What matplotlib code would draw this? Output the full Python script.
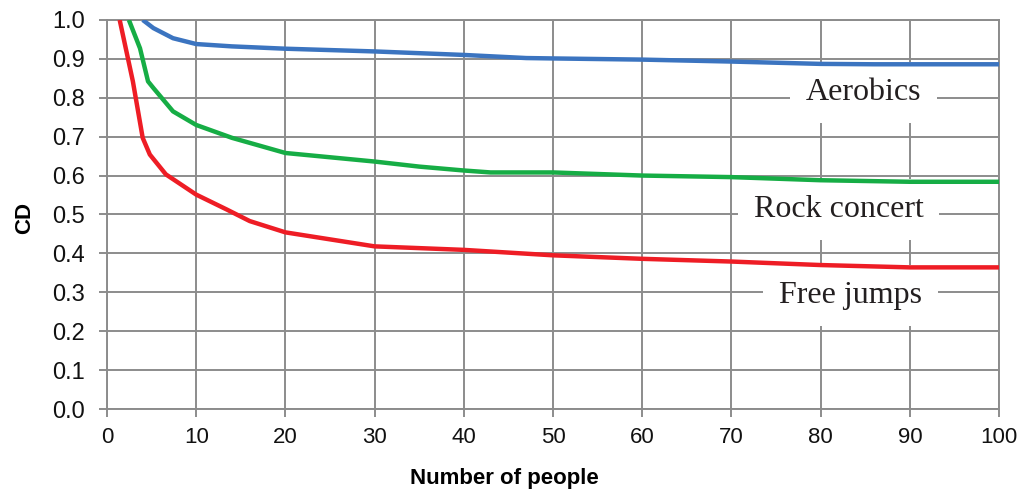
import matplotlib
matplotlib.use('Agg')
import matplotlib.pyplot as plt
from matplotlib.ticker import FormatStrFormatter

# curve values
aerobics_x = [4.0, 5.2, 7.4, 10, 14, 20, 30, 40, 47, 50, 60, 70, 80, 86, 100]
aerobics_y = [1.0, 0.979, 0.953, 0.938, 0.932, 0.926, 0.919, 0.910, 0.902, 0.901, 0.898, 0.893, 0.887, 0.886, 0.886]

rock_x = [2.45, 3.7, 4.6, 5.2, 7.4, 10, 14, 20, 30, 35, 40, 43, 50, 60, 70, 80, 90, 100]
rock_y = [1.0, 0.927, 0.842, 0.825, 0.765, 0.730, 0.697, 0.658, 0.636, 0.623, 0.613, 0.608, 0.608, 0.600, 0.596, 0.588, 0.584, 0.584]

jumps_x = [1.42, 2.9, 4.0, 4.8, 6.6, 10, 13.4, 16, 20, 30, 40, 50, 60, 70, 80, 90, 100]
jumps_y = [1.0, 0.842, 0.697, 0.654, 0.603, 0.551, 0.513, 0.483, 0.454, 0.418, 0.409, 0.395, 0.386, 0.379, 0.370, 0.364, 0.364]

labels = ['Aerobics', 'Rock concert', 'Free jumps']
label_x = [84.8, 82.0, 83.4]
label_y = [0.795, 0.494, 0.273]

x_ticks = list(range(0, 101, 10))
y_ticks = [i / 10 for i in range(0, 11)]

sans = ['Liberation Sans', 'DejaVu Sans']
grid_col = '#8c8c8c'

fig = plt.figure(figsize=(10.24, 4.98), dpi=100)
ax = fig.add_axes([0.1045, 0.1787, 0.8711, 0.7813])

ax.plot(aerobics_x, aerobics_y, color='#3b74c0', lw=3.2, zorder=4, solid_capstyle='butt')
ax.plot(rock_x, rock_y, color='#16ad45', lw=3.2, zorder=4, solid_capstyle='butt')
ax.plot(jumps_x, jumps_y, color='#ee1d25', lw=3.2, zorder=4, solid_capstyle='butt')

for t, xx, yy in zip(labels, label_x, label_y):
    ax.text(xx, yy, t, family=['Liberation Serif', 'DejaVu Serif'], fontsize=23,
            color='#231f20', ha='center', va='baseline', zorder=3,
            bbox=dict(boxstyle='square,pad=0.5', fc='white', ec='none'))

ax.set_xlim(0, 100)
ax.set_ylim(0, 1.0)
ax.set_xticks(x_ticks)
ax.set_yticks(y_ticks)
ax.yaxis.set_major_formatter(FormatStrFormatter('%.1f'))
ax.grid(True, color=grid_col, lw=1.4, zorder=1)
ax.set_axisbelow(True)
for s in ax.spines.values():
    s.set_color(grid_col)
    s.set_linewidth(1.4)
ax.tick_params(direction='out', length=6, width=1.4, color=grid_col,
               labelsize=16, labelcolor='#111111')
ax.tick_params(axis='y', pad=10, labelsize=17)
ax.tick_params(axis='x', pad=7)
for lab in ax.get_xticklabels() + ax.get_yticklabels():
    lab.set_family(sans)

ax.set_xlabel('Number of people', family=sans, fontsize=16, fontweight='bold')
ax.set_ylabel('CD', family=sans, fontsize=16, fontweight='bold')
ax.xaxis.set_label_coords(0.446, -0.152)
ax.yaxis.set_label_coords(-0.081, 0.49)

fig.savefig('out.png', dpi=100)
